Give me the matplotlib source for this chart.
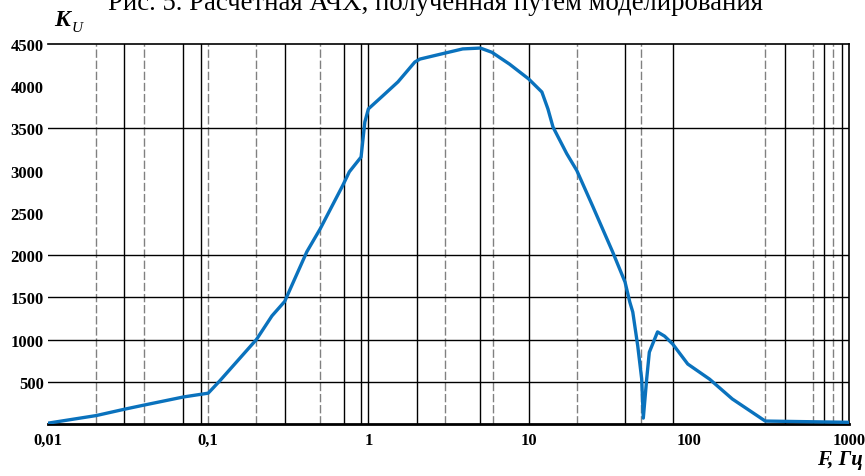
import numpy as np
import matplotlib
matplotlib.use("Agg")
import matplotlib.pyplot as plt

# frequency response (F in Hz, K_U)
freq = [0.01, 0.02, 0.03, 0.04, 0.07, 0.1, 0.118, 0.2, 0.25, 0.3, 0.413, 0.5,
        0.69, 0.76, 0.9, 0.95, 1.0, 1.23, 1.53, 1.95, 2.1, 3.0, 3.88, 5.0,
        5.9, 7.6, 10, 12.1, 13.2, 14.2, 17.3, 20, 25.1, 33.5, 40, 42.8, 44.7,
        48, 50.8, 52, 54.6, 56.7, 63.8, 70.6, 79.3, 98.5, 135, 187, 300, 1000]
gain = [10, 100, 175, 225, 320, 365, 510, 1000, 1280, 1450, 2040, 2310,
        2820, 2985, 3160, 3575, 3730, 3885, 4050, 4285, 4320, 4390, 4440, 4450,
        4400, 4260, 4085, 3930, 3730, 3515, 3200, 3000, 2580, 2035, 1680, 1445, 1325,
        925, 535, 70, 535, 850, 1090, 1040, 947, 710, 530, 296, 35, 20]

solid_f = [0.03, 0.07, 0.09, 0.3, 0.7, 0.9, 1, 2, 5, 10, 40, 80, 400, 700, 900]
dashed_f = [0.02, 0.04, 0.1, 0.2, 0.5, 3, 6, 20, 50, 300, 600, 800]
hlines = [500, 1000, 1500, 2000, 3500]

xticks = [0.01, 0.1, 1, 10, 100, 1000]
xlabels = ["0,01", "0,1", "1", "10", "100", "1000"]
yticks = [500, 1000, 1500, 2000, 2500, 3000, 3500, 4000, 4500]

fig = plt.figure(figsize=(8.65, 4.77), dpi=100)
ax = fig.add_axes([0.0555, 0.109, 0.926, 0.797])

for f in dashed_f:
    ax.axvline(f, color="0.5", lw=1.0, ls=(0, (6, 2)), zorder=1)
for f in solid_f:
    ax.axvline(f, color="black", lw=1.0, zorder=1)
for h in hlines:
    ax.axhline(h, color="black", lw=1.0, zorder=1)

ax.plot(freq, gain, color="#0a72bd", lw=2.4, zorder=3)

ax.set_xscale("log")
ax.set_xlim(0.01, 1000)
ax.set_ylim(0, 4500)

ax.spines["left"].set_visible(False)
ax.spines["top"].set_linewidth(1.2)
ax.spines["right"].set_linewidth(1.2)
ax.spines["bottom"].set_linewidth(2.0)

serif = ["Liberation Serif", "DejaVu Serif"]
ax.set_xticks(xticks)
ax.set_xticklabels(xlabels, fontfamily=serif, fontsize=12, fontweight="bold")
ax.xaxis.set_minor_locator(matplotlib.ticker.NullLocator())
ax.set_yticks(yticks)
ax.set_yticklabels([str(v) for v in yticks], fontfamily=serif, fontsize=12,
                   fontweight="bold")
ax.tick_params(length=0, pad=6)
ax.tick_params(axis="y", pad=3)

fig.text(0.503, 0.979, "Рис. 5. Расчетная АЧХ, полученная путем моделирования",
         ha="center", va="baseline", fontfamily=serif, fontsize=19.3)
fig.text(0.063, 0.945, "K", ha="left", va="baseline", fontfamily=serif,
         fontsize=17, fontweight="bold", fontstyle="italic")
fig.text(0.083, 0.932, "U", ha="left", va="baseline", fontfamily=serif,
         fontsize=11, fontstyle="italic")
fig.text(0.997, 0.025, "F, Гц", ha="right", va="baseline", fontfamily=serif,
         fontsize=15, fontweight="bold", fontstyle="italic")

fig.savefig("out.png", dpi=100)
